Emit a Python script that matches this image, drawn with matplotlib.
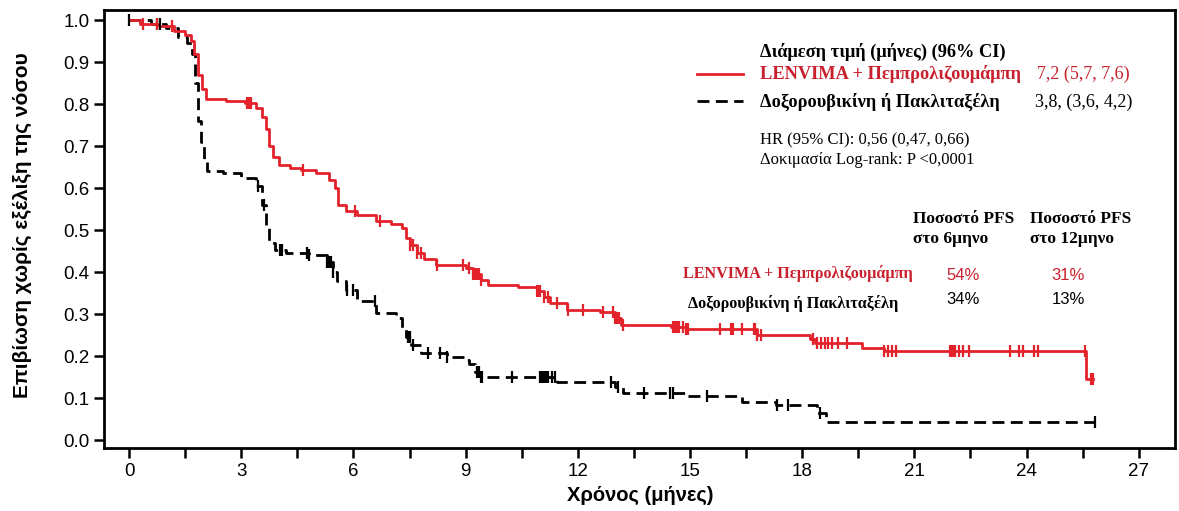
import matplotlib
matplotlib.use("Agg")
import matplotlib.pyplot as plt
import numpy as np

# ---------------- data ----------------
red_t = [0, 0.3, 0.8, 1.2, 1.5, 1.65, 1.75, 1.85, 1.95, 2.05, 2.6, 3.1, 3.4, 3.55, 3.65, 3.75, 3.85,
         4.0, 4.3, 4.6, 5.0, 5.35, 5.5, 5.6, 5.8, 6.1, 6.6, 7.0, 7.3, 7.4, 7.5, 7.7, 7.9, 8.2, 9.0,
         9.2, 9.4, 9.6, 10.4, 10.9, 11.1, 11.25, 11.7, 12.6, 13.0, 13.15, 14.5, 14.9, 16.8, 18.2,
         18.35, 19.6, 20.2, 25.6]
red_s = [1.0, 0.99, 0.985, 0.975, 0.965, 0.95, 0.92, 0.87, 0.835, 0.812, 0.808, 0.802, 0.79, 0.77,
         0.74, 0.70, 0.675, 0.655, 0.648, 0.642, 0.635, 0.62, 0.60, 0.56, 0.545, 0.535, 0.522, 0.515,
         0.505, 0.48, 0.465, 0.445, 0.43, 0.417, 0.41, 0.395, 0.38, 0.37, 0.364, 0.355, 0.34, 0.326,
         0.31, 0.305, 0.29, 0.275, 0.27, 0.264, 0.25, 0.24, 0.23, 0.219, 0.211, 0.146]
red_end = 25.78
red_cens = [0.37, 0.75, 1.15, 3.15, 3.2, 3.25, 4.65, 6.05, 6.7, 7.5, 7.6, 7.7, 7.8, 8.24, 8.93,
            9.1, 9.2, 9.25, 9.3, 9.35, 9.4, 10.9, 10.95, 11.0, 11.1, 11.2, 11.44, 11.74, 12.14,
            12.67, 12.95, 13.0, 13.05, 13.1, 13.2, 14.55, 14.6, 14.65, 14.7, 14.8, 14.9, 14.95,
            15.8, 16.1, 16.15, 16.4, 16.7, 16.75, 16.8, 16.9, 18.3, 18.4, 18.5, 18.6, 18.7, 18.8,
            18.96, 19.2, 20.2, 20.3, 20.4, 20.5, 21.95, 22.0, 22.05, 22.1, 22.2, 22.3, 22.45,
            23.55, 23.8, 23.9, 24.2, 24.3, 25.56, 25.72, 25.78]

black_t = [0, 0.6, 1.0, 1.3, 1.55, 1.68, 1.76, 1.84, 1.92, 2.0, 2.08, 2.5, 3.0, 3.4, 3.55, 3.65,
           3.75, 3.9, 4.2, 4.8, 5.3, 5.45, 5.55, 5.8, 6.1, 6.6, 7.15, 7.3, 7.4, 7.55, 7.8, 8.5, 9.0,
           9.1, 9.25, 9.4, 11.45, 13.0, 13.2, 14.9, 16.4, 17.3, 18.4, 18.65]
black_s = [1.0, 0.99, 0.98, 0.96, 0.945, 0.92, 0.85, 0.76, 0.71, 0.67, 0.64, 0.635, 0.625, 0.605,
           0.56, 0.51, 0.47, 0.452, 0.445, 0.44, 0.425, 0.40, 0.378, 0.358, 0.33, 0.303, 0.29, 0.265,
           0.245, 0.226, 0.207, 0.197, 0.19, 0.18, 0.163, 0.15, 0.137, 0.126, 0.112, 0.104, 0.09,
           0.083, 0.064, 0.043]
black_end = 25.83
black_cens = [0.0, 0.75, 0.83, 3.45, 3.6, 4.04, 4.1, 4.75, 4.8, 5.3, 5.35, 5.4, 5.45, 5.83, 6.0,
              6.58, 7.45, 7.5, 7.6, 8.0, 8.32, 8.5, 9.3, 9.35, 9.4, 9.44, 10.24, 11.0, 11.05, 11.1,
              11.15, 11.2, 11.3, 11.4, 12.9, 13.07, 13.77, 14.47, 14.55, 15.45, 17.33, 17.63, 18.48,
              25.83]

x_ticks = np.arange(0, 28, 3)
x_minor = np.arange(1.5, 27, 3)
y_ticks = np.round(np.arange(0, 1.01, 0.1), 1)

legend_title = "Διάμεση τιμή (μήνες) (96% CI)"
arm_names = ["LENVIMA + Πεμπρολιζουμάμπη", "Δοξορουβικίνη ή Πακλιταξέλη"]
arm_medians = ["7,2 (5,7, 7,6)", "3,8, (3,6, 4,2)"]
stats_lines = ["HR (95% CI): 0,56 (0,47, 0,66)", "Δοκιμασία Log-rank: P <0,0001"]
col_heads = ["Ποσοστό PFS\nστο 6μηνο", "Ποσοστό PFS\nστο 12μηνο"]
pfs6 = ["54%", "34%"]
pfs12 = ["31%", "13%"]

RED = "#e3222b"
RED_TXT = "#c8202c"
SERIF = ["Liberation Serif", "DejaVu Serif"]
SANS = ["Liberation Sans", "DejaVu Sans"]
DASH = (4.3, 2.3)

W, H = 1179, 511
fig = plt.figure(figsize=(W / 100, H / 100), dpi=100)
ax = fig.add_axes([104 / W, 1 - 448 / H, (1175 - 104) / W, (448 - 10) / H])


def step_value(ts, ss, t):
    idx = np.searchsorted(np.asarray(ts), t, side="right") - 1
    return np.asarray(ss)[np.clip(idx, 0, len(ss) - 1)]


rt = list(red_t) + [red_end]
rs = list(red_s) + [red_s[-1]]
bt = list(black_t) + [black_end]
bs = list(black_s) + [black_s[-1]]

ax.step(rt, rs, where="post", color=RED, lw=2.0, zorder=3)
ax.step(bt, bs, where="post", color="black", lw=2.0, dashes=DASH, zorder=2)
ax.plot(red_cens, step_value(red_t, red_s, np.array(red_cens)), ls="none", marker="|",
        ms=8, mew=1.6, color=RED, zorder=4)
ax.plot(black_cens, step_value(black_t, black_s, np.array(black_cens)), ls="none", marker="|",
        ms=8, mew=1.6, color="black", zorder=3)

ax.set_xlim(-0.67, 27.97)
ax.set_ylim(-0.019, 1.024)
ax.set_xticks(x_ticks)
ax.set_xticks(x_minor, minor=True)
ax.set_yticks(y_ticks)
ax.set_yticklabels([f"{v:.1f}" for v in y_ticks])
ax.tick_params(axis="both", which="both", direction="out", length=7, width=1.8,
               labelsize=13.5)
ax.tick_params(axis="x", which="minor", length=7, width=1.8)
for lab in ax.get_xticklabels() + ax.get_yticklabels():
    lab.set_family(SANS)
for sp in ax.spines.values():
    sp.set_linewidth(2.0)

fig.text(640 / W, 1 - 495 / H, "Χρόνος (μήνες)", ha="center", va="center",
         fontsize=14.5, fontweight="bold", family=SANS)
fig.text(22 / W, 1 - 225 / H, "Επιβίωση χωρίς εξέλιξη της νόσου", ha="center", va="center",
         rotation=90, fontsize=15, fontweight="bold", family=SANS)


def ft(x, y, s, **kw):
    fig.text(x / W, 1 - y / H, s, va="center", **kw)


# legend block
ft(760, 52, legend_title, fontsize=13.2, fontweight="bold", family=SERIF)
fig.add_artist(plt.Line2D([697 / W, 743 / W], [1 - 74 / H, 1 - 74 / H], color=RED, lw=2.0))
fig.add_artist(plt.Line2D([697 / W, 743 / W], [1 - 101 / H, 1 - 101 / H], color="black",
                          lw=2.0, dashes=DASH))
ft(760, 74, arm_names[0], fontsize=13.2, fontweight="bold", family=SERIF, color=RED_TXT)
ft(1037, 74, arm_medians[0], fontsize=13, family=SERIF, color=RED_TXT)
ft(760, 102, arm_names[1], fontsize=13.2, fontweight="bold", family=SERIF, color="black")
ft(1035, 102, arm_medians[1], fontsize=13, family=SERIF, color="black")
ft(760, 140, stats_lines[0], fontsize=12, family=SERIF)
ft(760, 160, stats_lines[1], fontsize=12, family=SERIF)

# table
ft(913, 229, col_heads[0], fontsize=12.5, fontweight="bold", family=SERIF, linespacing=1.35)
ft(1030, 229, col_heads[1], fontsize=12.5, fontweight="bold", family=SERIF, linespacing=1.35)
ft(683, 274, arm_names[0], fontsize=11.6, fontweight="bold", family=SERIF, color=RED_TXT)
ft(688, 304, arm_names[1], fontsize=11.6, fontweight="bold", family=SERIF, color="black")
ft(963, 275, pfs6[0], fontsize=12, family=SANS, color=RED_TXT, ha="center")
ft(1068, 275, pfs12[0], fontsize=12, family=SANS, color=RED_TXT, ha="center")
ft(963, 300, pfs6[1], fontsize=12, family=SANS, color="black", ha="center")
ft(1068, 300, pfs12[1], fontsize=12, family=SANS, color="black", ha="center")

fig.savefig("out.png", dpi=100)
